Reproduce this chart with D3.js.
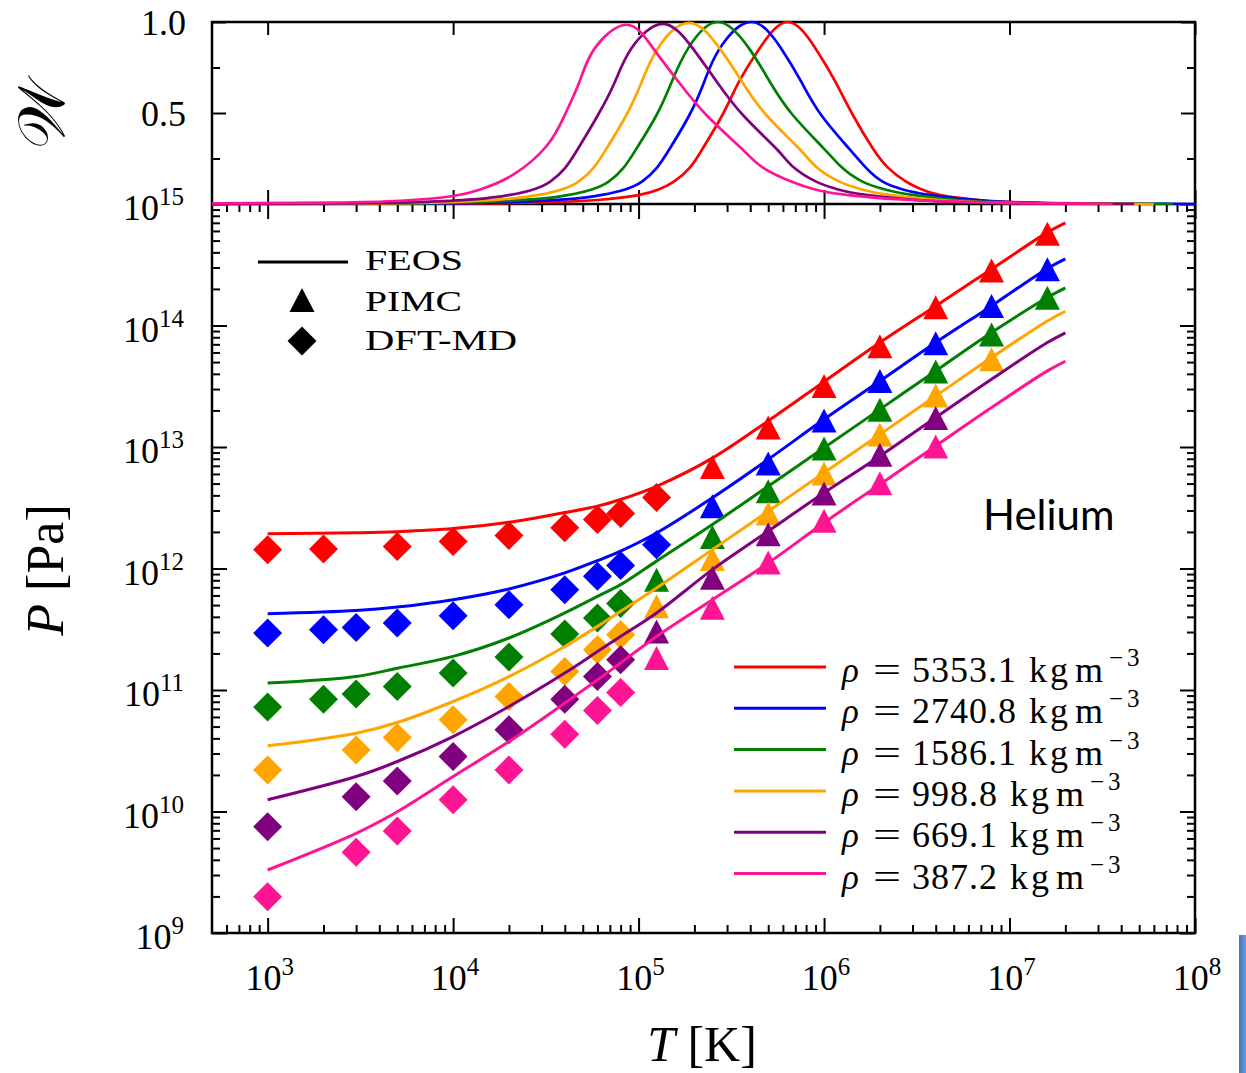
<!DOCTYPE html>
<html>
<head>
<meta charset="utf-8">
<script src="https://cdn.jsdelivr.net/npm/d3@7"></script>
<style>
  body { margin: 0; background: #fff; }
  svg { display: block; }
  .tick line { stroke: #000; stroke-width: 2; }
  .domain { display: none; }
  text { font-family: "Liberation Serif", serif; fill: #000; }
</style>
</head>
<body>
<div id="chart"></div>
<script>
// ---- data ----
const densities = ["5353.1", "2740.8", "1586.1", "998.8", "669.1", "387.2"];
const colors = ["#ff0000", "#0000ff", "#008000", "#ffa500", "#800080", "#ff1493"];

// FEOS curves, P [Pa] on a shared T grid [K]
const feosT = [1e3, 3e3, 5e3, 1e4, 2e4, 4e4, 6e4, 8e4, 1.25e5, 2.5e5, 5e5, 1e6, 2e6, 4e6, 8e6, 1.6e7, 2e7];
const feosRed    = [1.93e12, 1.97e12, 2.01e12, 2.13e12, 2.40e12, 2.89e12, 3.26e12, 3.70e12, 4.75e12, 8.10e12, 1.64e13, 3.45e13, 7.24e13, 1.45e14, 2.91e14, 5.84e14, 7.0e14];
const feosBlue   = [4.25e11, 4.52e11, 4.82e11, 5.54e11, 6.79e11, 9.20e11, 1.16e12, 1.39e12, 1.96e12, 3.82e12, 7.91e12, 1.69e13, 3.49e13, 7.24e13, 1.45e14, 2.95e14, 3.54e14];
const feosGreen  = [1.14e11, 1.29e11, 1.51e11, 1.89e11, 2.68e11, 4.31e11, 5.90e11, 7.36e11, 1.15e12, 2.30e12, 4.76e12, 9.86e12, 2.04e13, 4.23e13, 8.75e13, 1.70e14, 2.04e14];
const feosOrange = [3.47e10, 4.41e10, 5.40e10, 8.04e10, 1.29e11, 2.28e11, 3.34e11, 4.44e11, 6.92e11, 1.43e12, 2.96e12, 6.14e12, 1.27e13, 2.63e13, 5.45e13, 1.09e14, 1.31e14];
const feosPurple = [1.25e10, 1.94e10, 2.58e10, 4.14e10, 7.31e10, 1.38e11, 2.07e11, 2.76e11, 4.31e11, 9.79e11, 2.03e12, 4.20e12, 8.41e12, 1.75e13, 3.61e13, 7.24e13, 8.7e13];
const feosPink   = [3.30e9, 6.61e9, 9.95e9, 1.94e10, 3.76e10, 7.80e10, 1.21e11, 1.67e11, 2.76e11, 5.54e11, 1.11e12, 2.38e12, 4.92e12, 1.02e13, 2.11e13, 4.23e13, 5.08e13];

// DFT-MD points
const dftRedT = [1e3, 2e3, 5e3, 1e4, 2e4, 4e4, 6e4, 8e4, 1.25e5];
const dftRed  = [1.43e12, 1.45e12, 1.52e12, 1.67e12, 1.87e12, 2.16e12, 2.53e12, 2.84e12, 3.84e12];
const dftBlueT = [1e3, 2e3, 3e3, 5e3, 1e4, 2e4, 4e4, 6e4, 8e4, 1.25e5];
const dftBlue  = [2.94e11, 3.13e11, 3.27e11, 3.56e11, 4.09e11, 5.04e11, 6.70e11, 8.63e11, 1.06e12, 1.57e12];
const dftGreenT = [1e3, 2e3, 3e3, 5e3, 1e4, 2e4, 4e4, 6e4, 8e4];
const dftGreen  = [7.23e10, 8.41e10, 9.25e10, 1.07e11, 1.38e11, 1.87e11, 2.89e11, 3.92e11, 5.14e11];
const dftLowT = [1e3, 3e3, 5e3, 1e4, 2e4, 4e4, 6e4, 8e4];
const dftOrange = [2.20e10, 3.21e10, 4.06e10, 5.68e10, 8.83e10, 1.42e11, 2.14e11, 2.85e11];
const dftPurple = [7.50e9, 1.32e10, 1.78e10, 2.83e10, 4.70e10, 8.41e10, 1.29e11, 1.77e11];
const dftPink   = [1.99e9, 4.61e9, 6.90e9, 1.25e10, 2.20e10, 4.33e10, 6.77e10, 9.53e10];

// PIMC points
const pimcHighT = [2.5e5, 5e5, 1e6, 2e6, 4e6, 8e6, 1.6e7];
const pimcRed  = [6.85e12, 1.45e13, 3.18e13, 6.75e13, 1.41e14, 2.84e14, 5.69e14];
const pimcBlue = [3.26e12, 7.33e12, 1.65e13, 3.49e13, 7.14e13, 1.45e14, 2.90e14];
const pimcGreenT = [1.25e5, 2.5e5, 5e5, 1e6, 2e6, 4e6, 8e6, 1.6e7];
const pimcGreen  = [8.09e11, 1.82e12, 4.33e12, 9.73e12, 2.03e13, 4.18e13, 8.43e13, 1.69e14];
const pimcOrangeT = [1.25e5, 2.5e5, 5e5, 1e6, 2e6, 4e6, 8e6];
const pimcOrange  = [4.88e11, 1.20e12, 2.84e12, 6.06e12, 1.27e13, 2.65e13, 5.28e13];
const pimcLowT = [1.25e5, 2.5e5, 5e5, 1e6, 2e6, 4e6];
const pimcPurple = [3.03e11, 8.41e11, 1.91e12, 4.14e12, 8.63e12, 1.73e13];
const pimcPink   = [1.83e11, 4.76e11, 1.12e12, 2.47e12, 5.04e12, 1.01e13];

// weight function W(T) for the upper panel
const wRedT = [500, 1.5e4, 6e4, 1.01e5, 1.28e5, 1.55e5, 1.89e5, 2.22e5, 2.83e5, 3.48e5, 4.49e5, 6.37e5, 9.0e5, 1.15e6, 1.43e6, 1.83e6, 2.21e6, 2.77e6, 3.37e6, 4.18e6, 6.87e6, 1.5e7, 3e7];
const wRed  = [0, .003, .022, .05, .08, .123, .2, .306, .489, .672, .855, 1.0, .855, .672, .489, .306, .2, .123, .08, .05, .022, .005, 0];
const wBlueT = [500, 8.5e3, 2.03e4, 4.01e4, 6.35e4, 8.45e4, 1.043e5, 1.257e5, 1.477e5, 1.88e5, 2.26e5, 2.74e5, 4.05e5, 5.87e5, 7.53e5, 9.65e5, 1.36e6, 1.68e6, 2.07e6, 2.66e6, 3.7e6, 8e6, 2.5e7, 1e8];
const wBlue  = [0, .003, .01, .025, .05, .08, .123, .2, .306, .489, .672, .855, 1.0, .855, .672, .489, .306, .2, .123, .08, .05, .014, .003, 0];
const wGreenT = [500, 5.86e3, 1.34e4, 2.65e4, 4.2e4, 5.59e4, 6.9e4, 8.31e4, 9.77e4, 1.25e5, 1.51e5, 1.85e5, 2.68e5, 3.94e5, 5.1e5, 6.78e5, 9.95e5, 1.25e6, 1.61e6, 2.13e6, 2.99e6, 6.5e6, 2e7, 7.6e7];
const wGreen  = [0, .003, .01, .025, .05, .08, .123, .2, .306, .489, .672, .855, 1.0, .855, .672, .489, .306, .2, .123, .08, .05, .015, .003, 0];
const wOrangeT = [500, 4.04e3, 9.24e3, 1.83e4, 2.89e4, 3.85e4, 4.75e4, 5.73e4, 6.73e4, 8.6e4, 1.04e5, 1.27e5, 1.87e5, 2.74e5, 3.61e5, 4.88e5, 7.31e5, 9.16e5, 1.21e6, 1.6e6, 2.25e6, 5e6, 1.5e7, 6e7];
const wOrange  = [0, .003, .01, .025, .05, .08, .123, .2, .306, .489, .672, .855, .995, .855, .672, .489, .306, .2, .123, .08, .05, .016, .003, 0];
const wPurpleT = [500, 2.78e3, 6.49e3, 1.285e4, 2.03e4, 2.71e4, 3.34e4, 4.03e4, 4.73e4, 6.04e4, 7.46e4, 9.14e4, 1.35e5, 1.96e5, 2.64e5, 3.65e5, 5.5e5, 6.88e5, 9.06e5, 1.19e6, 1.69e6, 4e6, 1.2e7, 4.7e7];
const wPurple  = [.001, .003, .01, .025, .05, .08, .123, .2, .306, .489, .672, .855, .99, .855, .672, .489, .306, .2, .123, .08, .05, .015, .003, 0];
const wPinkT = [500, 2.2e3, 5.2e3, 1e4, 1.4e4, 2.1e4, 3.2e4, 4.0e4, 4.8e4, 5.8e4, 8.6e4, 1.2e5, 1.64e5, 2.32e5, 3.58e5, 4.68e5, 6.65e5, 8.93e5, 1.32e6, 2.6e6, 8.9e6, 3.6e7];
const wPink  = [.003, .008, .018, .044, .08, .16, .32, .489, .672, .855, .985, .855, .672, .489, .306, .2, .123, .08, .05, .025, .007, 0];

const xMajor = [1e3, 1e4, 1e5, 1e6, 1e7, 1e8];
const xMajorExp = ["3", "4", "5", "6", "7", "8"];
const yMajor = [1e9, 1e10, 1e11, 1e12, 1e13, 1e14, 1e15];
const yMajorExp = ["9", "10", "11", "12", "13", "14", "15"];
const wTicks = [0.5, 1.0];
const wTickLabels = ["0.5", "1.0"];
const wMinor = [0.25, 0.75];

const zip = (xs, ys) => xs.map((t, i) => ({ T: t, v: ys[i] }));
const series = [
  { feos: feosRed,    dft: zip(dftRedT, dftRed),     pimc: zip(pimcHighT, pimcRed),      w: zip(wRedT, wRed) },
  { feos: feosBlue,   dft: zip(dftBlueT, dftBlue),   pimc: zip(pimcHighT, pimcBlue),     w: zip(wBlueT, wBlue) },
  { feos: feosGreen,  dft: zip(dftGreenT, dftGreen), pimc: zip(pimcGreenT, pimcGreen),   w: zip(wGreenT, wGreen) },
  { feos: feosOrange, dft: zip(dftLowT, dftOrange),  pimc: zip(pimcOrangeT, pimcOrange), w: zip(wOrangeT, wOrange) },
  { feos: feosPurple, dft: zip(dftLowT, dftPurple),  pimc: zip(pimcLowT, pimcPurple),    w: zip(wPurpleT, wPurple) },
  { feos: feosPink,   dft: zip(dftLowT, dftPink),    pimc: zip(pimcLowT, pimcPink),      w: zip(wPinkT, wPink) }
].map((s, i) => ({ ...s, feos: zip(feosT, s.feos), color: colors[i], rho: densities[i] }));

// ---- layout ----
const width = 1246, height = 1073;
const box = { left: 212, right: 1195, top: 22, mid: 204, bottom: 933 };

const svg = d3.select("#chart").append("svg")
  .attr("width", width)
  .attr("height", height);

const x = d3.scaleLog().domain([10 ** 2.7, 1e8]).range([box.left, box.right]);
const y = d3.scaleLog().domain([1e9, 1e15]).range([box.bottom, box.mid]);
const yw = d3.scaleLinear().domain([0, 1]).range([box.mid, box.top]);

const defs = svg.append("defs");
defs.append("clipPath").attr("id", "wClip")
  .append("rect").attr("x", box.left).attr("y", box.top - 2)
  .attr("width", box.right - box.left).attr("height", box.mid - box.top + 3.5);

const xMinor = [];
for (let e = 2; e < 8; e++) for (let m = 2; m <= 9; m++) {
  const v = m * 10 ** e;
  if (v > x.domain()[0]) xMinor.push(v);
}
const yMinor = [];
for (let e = 9; e < 15; e++) for (let m = 2; m <= 9; m++) yMinor.push(m * 10 ** e);

// axes with inward ticks
function ticks(axisFn, scale, values, size, transform) {
  svg.append("g")
    .attr("transform", transform)
    .call(axisFn(scale).tickValues(values).tickSize(-size).tickFormat(""));
}
// main panel
ticks(d3.axisBottom, x, xMajor, 15, `translate(0,${box.bottom})`);
ticks(d3.axisBottom, x, xMinor, 8, `translate(0,${box.bottom})`);
ticks(d3.axisTop, x, xMajor, 15, `translate(0,${box.mid})`);
ticks(d3.axisTop, x, xMinor, 8, `translate(0,${box.mid})`);
ticks(d3.axisLeft, y, yMajor, 15, `translate(${box.left},0)`);
ticks(d3.axisLeft, y, yMinor, 8, `translate(${box.left},0)`);
ticks(d3.axisRight, y, yMajor, 15, `translate(${box.right},0)`);
ticks(d3.axisRight, y, yMinor, 8, `translate(${box.right},0)`);
// upper panel
ticks(d3.axisBottom, x, xMajor, 14, `translate(0,${box.mid})`);
ticks(d3.axisTop, x, xMajor, 13, `translate(0,${box.top})`);
ticks(d3.axisLeft, yw, wTicks, 14, `translate(${box.left},0)`);
ticks(d3.axisLeft, yw, wMinor, 8, `translate(${box.left},0)`);
ticks(d3.axisRight, yw, wTicks, 14, `translate(${box.right},0)`);
ticks(d3.axisRight, yw, wMinor, 8, `translate(${box.right},0)`);

// frames
svg.append("rect").attr("x", box.left).attr("y", box.top)
  .attr("width", box.right - box.left).attr("height", box.bottom - box.top)
  .attr("fill", "none").attr("stroke", "#000").attr("stroke-width", 2.5);
svg.append("line").attr("x1", box.left).attr("x2", box.right).attr("y1", box.mid).attr("y2", box.mid)
  .attr("stroke", "#000").attr("stroke-width", 2.5);

// tick labels
function powLabel(sel, exp) {
  sel.append("tspan").text("10");
  sel.append("tspan").attr("font-size", 25).attr("dy", -15).text(exp);
}
xMajor.forEach((v, i) => {
  svg.append("text").attr("x", x(v) + 2).attr("y", 990).attr("font-size", 36)
    .attr("text-anchor", "middle").call(powLabel, xMajorExp[i]);
});
yMajor.forEach((v, i) => {
  svg.append("text").attr("x", 184).attr("y", y(v) + 16).attr("font-size", 36)
    .attr("text-anchor", "end").call(powLabel, yMajorExp[i]);
});
wTicks.forEach((v, i) => {
  svg.append("text").attr("x", 186).attr("y", yw(v) + 13).attr("font-size", 36)
    .attr("text-anchor", "end").text(wTickLabels[i]);
});

// axis titles
const tTitle = svg.append("text").attr("x", 702).attr("y", 1061).attr("font-size", 50).attr("text-anchor", "middle");
tTitle.append("tspan").attr("font-style", "italic").text("T");
tTitle.append("tspan").text(" [K]");

const pTitle = svg.append("text").attr("transform", "translate(63,570) rotate(-90)")
  .attr("font-size", 52).attr("text-anchor", "middle");
pTitle.append("tspan").attr("font-style", "italic").text("P");
pTitle.append("tspan").text(" [Pa]");

svg.append("text").attr("transform", "translate(64,114) rotate(-90)")
  .attr("font-size", 66).attr("text-anchor", "middle").text("𝒲");

// upper panel curves
const wLine = d3.line().x(d => x(d.T)).y(d => yw(d.v)).curve(d3.curveNatural);
const wGroup = svg.append("g").attr("clip-path", "url(#wClip)");
series.forEach(s => {
  wGroup.append("path").attr("d", wLine(s.w)).attr("fill", "none")
    .attr("stroke", s.color).attr("stroke-width", 2.7);
});

// main panel
const pLine = d3.line().x(d => x(d.T)).y(d => y(d.v)).curve(d3.curveCatmullRom.alpha(0.5));
const triangle = (cx, cy) => `M${cx},${cy - 12}L${cx + 12.5},${cy + 12}L${cx - 12.5},${cy + 12}Z`;
const diamond = (cx, cy) => `M${cx},${cy - 14.5}L${cx + 14.5},${cy}L${cx},${cy + 14.5}L${cx - 14.5},${cy}Z`;

series.forEach(s => {
  svg.append("path").attr("d", pLine(s.feos)).attr("fill", "none")
    .attr("stroke", s.color).attr("stroke-width", 3);
  svg.append("g").selectAll("path").data(s.pimc).join("path")
    .attr("d", d => triangle(x(d.T), y(d.v))).attr("fill", s.color);
  svg.append("g").selectAll("path").data(s.dft).join("path")
    .attr("d", d => diamond(x(d.T), y(d.v))).attr("fill", s.color);
});

// legend: methods
svg.append("line").attr("x1", 258).attr("x2", 348).attr("y1", 262).attr("y2", 262)
  .attr("stroke", "#000").attr("stroke-width", 3);
svg.append("path").attr("d", triangle(302, 300)).attr("fill", "#000");
svg.append("path").attr("d", diamond(302, 341)).attr("fill", "#000");
[["FEOS", 270, 98], ["PIMC", 311, 97], ["DFT-MD", 350, 152]].forEach(([t, yy, len]) => {
  svg.append("text").attr("x", 365).attr("y", yy).attr("font-size", 30)
    .attr("textLength", len).attr("lengthAdjust", "spacingAndGlyphs").text(t);
});

// legend: densities
series.forEach((s, i) => {
  const ly = 667 + i * 41.3;
  svg.append("line").attr("x1", 734).attr("x2", 826).attr("y1", ly).attr("y2", ly)
    .attr("stroke", s.color).attr("stroke-width", 3);
  svg.append("text").attr("x", 842).attr("y", ly + 15).attr("font-size", 35)
    .attr("font-style", "italic").text("ρ");
  svg.append("text").attr("x", 873).attr("y", ly + 15).attr("font-size", 35)
    .attr("textLength", 28).attr("lengthAdjust", "spacingAndGlyphs").text("=");
  const t = svg.append("text").attr("x", 912).attr("y", ly + 15).attr("font-size", 36)
    .style("letter-spacing", "1px");
  t.append("tspan").text(s.rho);
  t.append("tspan").attr("dx", 12).style("letter-spacing", "3px").text("kg");
  t.append("tspan").attr("dx", 4).style("letter-spacing", "0px").text("m");
  t.append("tspan").attr("dx", 6).attr("dy", -16).attr("font-size", 25)
    .style("letter-spacing", "4px").text("−3");
});

// annotation
svg.append("text").attr("x", 983).attr("y", 530)
  .style("font-family", "Lato, 'Open Sans', sans-serif")
  .attr("font-size", 42).text("Helium");

// slide decoration at bottom right
const grad = defs.append("linearGradient").attr("id", "blueBar")
  .attr("x1", "0").attr("x2", "1").attr("y1", "0").attr("y2", "0");
grad.append("stop").attr("offset", "0%").attr("stop-color", "#3f74c4");
grad.append("stop").attr("offset", "100%").attr("stop-color", "#6e9ad8");
svg.append("rect").attr("x", 1239).attr("y", 935).attr("width", 7).attr("height", 138).attr("fill", "url(#blueBar)");
</script>
</body>
</html>
